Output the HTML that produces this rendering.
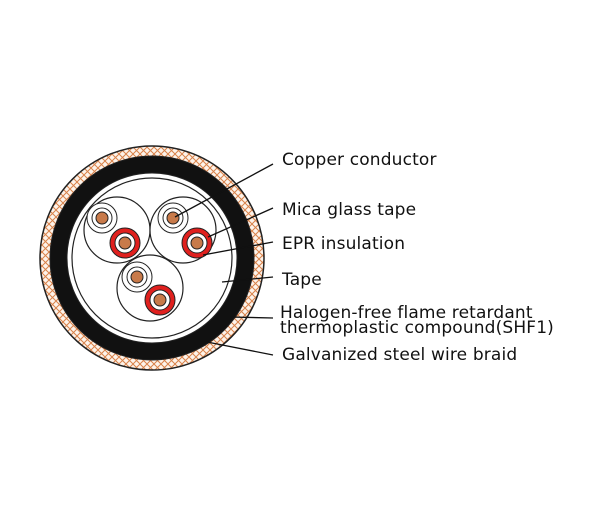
<!DOCTYPE html>
<html><head><meta charset="utf-8"><style>
body{margin:0;background:#fff;width:600px;height:500px;overflow:hidden}
text{font-family:"DejaVu Sans",sans-serif;font-size:17px;letter-spacing:0.15px;fill:#111}
</style></head><body>
<svg width="600" height="500" viewBox="0 0 600 500">
<defs>
<pattern id="braid" width="7" height="7" patternUnits="userSpaceOnUse">
<rect width="7" height="7" fill="#fdf3ea"/>
<path d="M0 0L7 7M7 0L0 7" stroke="#d9824a" stroke-width="1"/>
</pattern>
</defs>
<circle cx="152" cy="258" r="112" fill="url(#braid)" stroke="#222" stroke-width="1.5"/>
<circle cx="152" cy="258" r="102" fill="#111" stroke="#222"/>
<circle cx="152" cy="258" r="85" fill="#fff" stroke="#222"/>
<circle cx="152" cy="258" r="80" fill="#fff" stroke="#222" stroke-width="1.2"/>
<g fill="#fff" stroke="#222" stroke-width="1.2">
<circle cx="117" cy="230" r="33"/>
<circle cx="183" cy="230" r="33"/>
<circle cx="150" cy="288" r="33"/>
</g>
<g stroke="#222" stroke-width="1">
<g fill="#fff">
<circle cx="102" cy="218" r="15"/><circle cx="173" cy="218" r="15"/><circle cx="137" cy="277" r="15"/>
</g>
<g fill="#fff"><circle cx="102" cy="218" r="10"/><circle cx="173" cy="218" r="10"/><circle cx="137" cy="277" r="10"/></g>
<g fill="#c87a4a"><circle cx="102" cy="218" r="6"/><circle cx="173" cy="218" r="6"/><circle cx="137" cy="277" r="6"/></g>
<g fill="#e0201e"><circle cx="125" cy="243" r="15"/><circle cx="197" cy="243" r="15"/><circle cx="160" cy="300" r="15"/></g>
<g fill="#fff"><circle cx="125" cy="243" r="10"/><circle cx="197" cy="243" r="10"/><circle cx="160" cy="300" r="10"/></g>
<g fill="#c87a4a"><circle cx="125" cy="243" r="6"/><circle cx="197" cy="243" r="6"/><circle cx="160" cy="300" r="6"/></g>
</g>
<g stroke="#111" stroke-width="1.3">
<line x1="175" y1="217" x2="273" y2="164"/>
<line x1="208" y1="237" x2="273" y2="208"/>
<line x1="203" y1="255" x2="273" y2="242"/>
<line x1="222" y1="282" x2="273" y2="277"/>
<line x1="230" y1="317" x2="273" y2="318"/>
<line x1="207" y1="342" x2="273" y2="355"/>
</g>
<text x="282" y="165">Copper conductor</text>
<text x="282" y="215">Mica glass tape</text>
<text x="282" y="249">EPR insulation</text>
<text x="282" y="285">Tape</text>
<text x="280" y="318">Halogen-free flame retardant</text>
<text x="280" y="333">thermoplastic compound(SHF1)</text>
<text x="282" y="360">Galvanized steel wire braid</text>
</svg>
</body></html>
